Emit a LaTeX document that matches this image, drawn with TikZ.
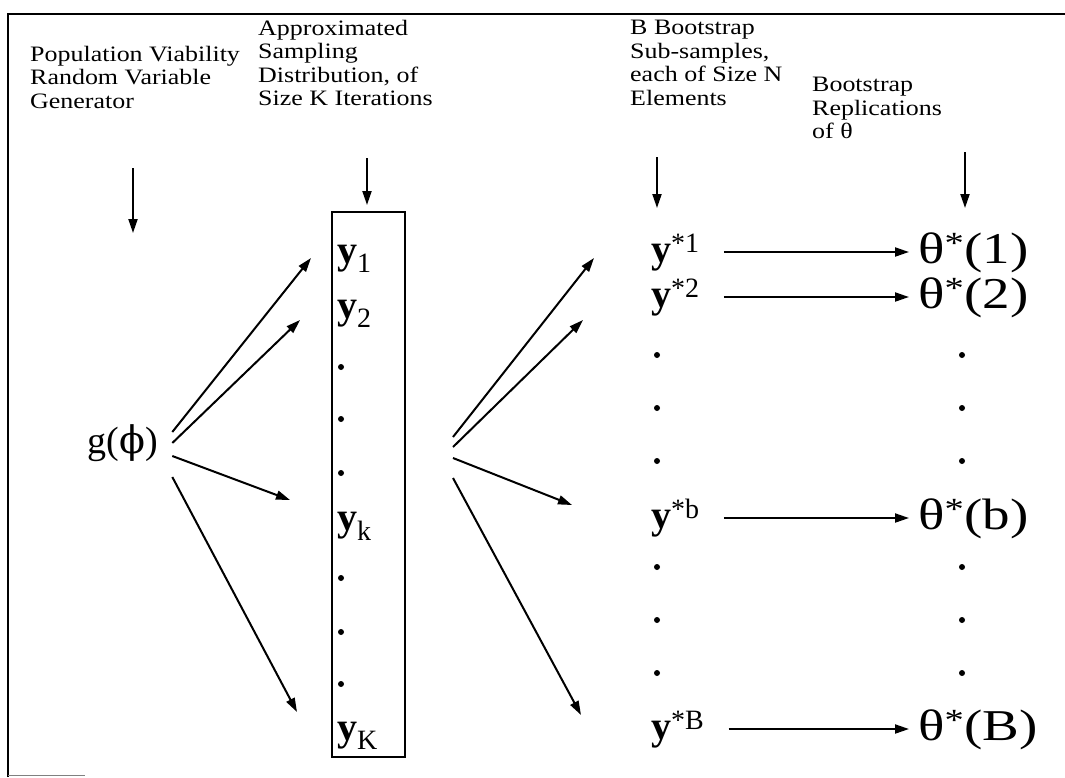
\documentclass[tikz,border=0pt]{standalone}
\usepackage{fontspec}
\setmainfont{Liberation Serif}
\newfontfamily\phifont{DejaVu Serif}
\newfontfamily\widefont[FakeStretch=1.25]{Liberation Serif}
\newfontfamily\headfont[FakeStretch=1.18]{Liberation Serif}
\usepackage{tikz}
\usetikzlibrary{arrows.meta,positioning}

\tikzset{
	heading/.style={anchor=north west, align=left, inner sep=0pt, font=\headfont\fontsize{22}{23.5}\selectfont},
	bigtext/.style={inner sep=0pt, font=\widefont\fontsize{44}{48}\selectfont, text height=32pt, text depth=10pt},
	boxtext/.style={inner sep=0pt, font=\fontsize{40}{44}\selectfont, text height=29pt, text depth=9pt},
	dotnode/.style={circle, fill, inner sep=0pt, minimum size=6pt},
	arr/.style={->, >={Triangle[length=14pt, width=9pt]}, line width=2pt}
}

\begin{document}
\begin{tikzpicture}[x=1pt, y=-1pt]
		\useasboundingbox (0,0) rectangle (1065,777);

		% frame
		\draw [line width=2pt] (8,777) -- (8,14) -- (1065,14);
		\draw [gray, line width=1pt] (8,775) -- (85,775);

		% column headings
		\node[heading] (popgen) at (30,46) {Population Viability\\Random Variable\\Generator};
		\node[heading] (approx) at (258,20) {Approximated\\Sampling\\Distribution, of\\Size K Iterations};
		\node[heading] (bsub) at (630,20) {B Bootstrap\\Sub-samples,\\each of Size N\\Elements};
		\node[heading] (brep) at (812,77) {Bootstrap\\Replications\\of θ};

		\coordinate (popdown) at (133,168);
		\coordinate (approxdown) at (367,158);
		\coordinate (bsubdown) at (657,157);
		\coordinate (brepdown) at (965,152);
		\draw [arr] (popdown) -- ++(0,65);
		\draw [arr] (approxdown) -- ++(0,47);
		\draw [arr] (bsubdown) -- ++(0,51);
		\draw [arr] (brepdown) -- ++(0,56);

		% generator
		\node[inner sep=0pt, font=\fontsize{38}{42}\selectfont] (gphi) at (123,443) {g({\phifont ϕ})};

		% sampling distribution
		\node[draw, line width=2pt, minimum width=73pt, minimum height=545pt, inner sep=0pt] (samplebox) at (368.5,484.5) {};
		\node[boxtext, anchor=west] (yone) at (337,253) {\textbf{y}\textsubscript{1}};
		\node[boxtext, anchor=west] (ytwo) at (337,308) {\textbf{y}\textsubscript{2}};
		\node[boxtext, anchor=west] (ysmallk) at (337,520) {\textbf{y}\textsubscript{k}};
		\node[boxtext, anchor=west] (ybigk) at (337,730) {\textbf{y}\textsubscript{K}};
		\foreach \yy [count=\i] in {367,419,473,578,632,684}
			\node[dotnode] (kdot\i) at (341,\yy) {};

		% bootstrap sub-samples and replications
		\node[boxtext, anchor=west] (ysone) at (651,252) {\textbf{y}\textsuperscript{*1}};
		\node[boxtext, anchor=west] (ystwo) at (651,297) {\textbf{y}\textsuperscript{*2}};
		\node[boxtext, anchor=west] (yssmallb) at (651,518) {\textbf{y}\textsuperscript{*b}};
		\node[boxtext, anchor=west] (ysbigb) at (651,729) {\textbf{y}\textsuperscript{*B}};
		\node[bigtext, anchor=west] (thone) at (918,252) {θ\textsuperscript{*}(1)};
		\node[bigtext, anchor=west] (thtwo) at (918,297) {θ\textsuperscript{*}(2)};
		\node[bigtext, anchor=west] (thsmallb) at (918,518) {θ\textsuperscript{*}(b)};
		\node[bigtext, anchor=west] (thbigb) at (918,729) {θ\textsuperscript{*}(B)};
		\foreach \yy [count=\i] in {355,408,461,567,620,673} {
			\node[dotnode] (bdot\i) at (657,\yy) {};
			\node[dotnode] (rdot\i) at (962,\yy) {};
		}

		\draw [arr] ([xshift=24pt]ysone.east) -- ([xshift=-9pt]thone.west);
		\draw [arr] ([xshift=24pt]ystwo.east) -- ([xshift=-9pt]thtwo.west);
		\draw [arr] ([xshift=24pt]yssmallb.east) -- ([xshift=-9pt]thsmallb.west);
		\draw [arr] ([xshift=24pt]ysbigb.east) -- ([xshift=-9pt]thbigb.west);

		% fan from the generator
		\coordinate (tipla) at (311,258);
		\coordinate (tiplb) at (300,320);
		\coordinate (tiplc) at (290,500);
		\coordinate (tipld) at (297,712);
		\draw [arr] ([xshift=14pt, yshift=11pt]gphi.east) -- (tipla);
		\draw [arr] ([xshift=14pt]gphi.east) -- (tiplb);
		\draw [arr] ([xshift=14pt, yshift=-13pt]gphi.east) -- (tiplc);
		\draw [arr] ([xshift=14pt, yshift=-34pt]gphi.east) -- (tipld);

		% fan from the sampling distribution
		\coordinate (tipra) at (594,258);
		\coordinate (tiprb) at (583,320);
		\coordinate (tiprc) at (572,505);
		\coordinate (tiprd) at (581,715);
		\draw [arr] ([xshift=47pt, yshift=47.5pt]samplebox.east) -- (tipra);
		\draw [arr] ([xshift=47pt, yshift=37.5pt]samplebox.east) -- (tiprb);
		\draw [arr] ([xshift=47pt, yshift=26.5pt]samplebox.east) -- (tiprc);
		\draw [arr] ([xshift=47pt, yshift=6.5pt]samplebox.east) -- (tiprd);
	\end{tikzpicture}
\end{document}
